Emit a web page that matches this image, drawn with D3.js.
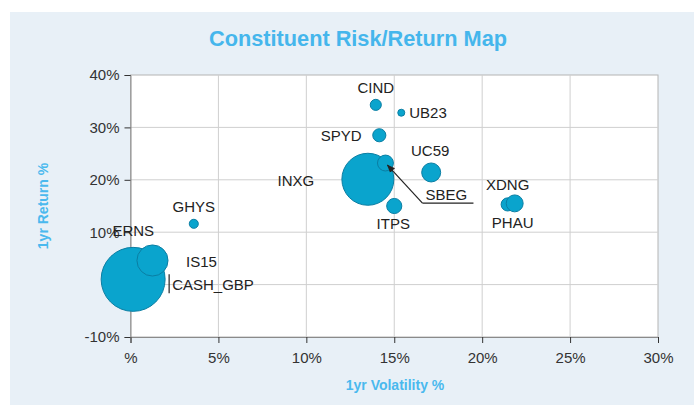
<!DOCTYPE html>
<html>
<head>
<meta charset="utf-8">
<script src="https://cdn.jsdelivr.net/npm/d3@7"></script>
<style>
  body { margin: 0; background: #fff; }
  text { font-family: "Liberation Sans", Arial, sans-serif; }
</style>
</head>
<body>
<div id="chartArea"></div>
<script>
// constituents, drawn in this order
var names = ['ERNS', 'CASH_GBP', 'IS15', 'GHYS', 'INXG', 'CIND', 'SPYD', 'SBEG', 'UB23', 'ITPS', 'UC59', 'XDNG', 'PHAU'];
var volatility = [0.1, 0.15, 1.25, 3.6, 13.5, 13.95, 14.15, 14.5, 15.4, 15.0, 17.1, 21.45, 21.85];
var returns = [1.2, 1.0, 4.6, 11.6, 20.1, 34.3, 28.5, 23.2, 32.8, 15.0, 21.4, 15.3, 15.5];
var weights = [0.2, 25, 5.9, 0.5, 16.5, 0.75, 1.05, 1.55, 0.3, 1.4, 2.2, 1.05, 1.75];

var xTicks = [0, 5, 10, 15, 20, 25, 30];
var yTicks = [-10, 0, 10, 20, 30, 40];

// label placement (pixel offsets from the point)
var labelPos = {
    ERNS: { dx: 1, dy: -48, anchor: 'middle' },
    CASH_GBP: { dx: 39, dy: 5, anchor: 'start' },
    IS15: { dx: 49, dy: 1, anchor: 'middle' },
    GHYS: { dx: 0, dy: -17, anchor: 'middle' },
    INXG: { dx: -72, dy: 1, anchor: 'middle' },
    CIND: { dx: 0, dy: -17, anchor: 'middle' },
    SPYD: { dx: -38, dy: 0, anchor: 'middle' },
    SBEG: { dx: 61, dy: 32, anchor: 'middle' },
    UB23: { dx: 8, dy: 0, anchor: 'start' },
    ITPS: { dx: -1, dy: 18, anchor: 'middle' },
    UC59: { dx: -1, dy: -22, anchor: 'middle' },
    XDNG: { dx: 0, dy: -20, anchor: 'middle' },
    PHAU: { dx: -2, dy: 19, anchor: 'middle' }
};

var data = names.map(function(n, i) {
    return { name: n, x: volatility[i], y: returns[i], w: weights[i] };
});

var W = 694, H = 405;
var plot = { left: 130.5, right: 658, top: 75, bottom: 337 };

var svg = d3.select('#chartArea').append('svg')
    .attr('width', W)
    .attr('height', H);

svg.append('defs').append('marker')
    .attr('id', 'arrow')
    .attr('viewBox', '0 0 10 10')
    .attr('refX', 9).attr('refY', 5)
    .attr('markerWidth', 7).attr('markerHeight', 7)
    .attr('orient', 'auto')
    .append('path')
    .attr('d', 'M0,1 L10,5 L0,9 Z')
    .attr('fill', '#222');

// panel
svg.append('rect')
    .attr('x', 10).attr('y', 12)
    .attr('width', W - 10).attr('height', H - 12)
    .attr('fill', '#e8f0f7');

svg.append('text')
    .attr('x', 358).attr('y', 46)
    .attr('text-anchor', 'middle')
    .attr('font-size', 22)
    .attr('font-weight', 'bold')
    .attr('textLength', 298)
    .attr('lengthAdjust', 'spacingAndGlyphs')
    .attr('fill', '#45b6ec')
    .text('Constituent Risk/Return Map');

var xScale = d3.scaleLinear().domain([0, 30]).range([plot.left, plot.right]);
var yScale = d3.scaleLinear().domain([-10, 40]).range([plot.bottom, plot.top]);
var rScale = d3.scaleSqrt().domain([0, 25]).range([0, 32]);

svg.append('rect')
    .attr('x', plot.left).attr('y', plot.top)
    .attr('width', plot.right - plot.left).attr('height', plot.bottom - plot.top)
    .attr('fill', '#fff')
    .attr('stroke', '#b4b4b4');

// grid
svg.append('g').selectAll('line.v')
    .data(xTicks.slice(1, -1))
    .enter().append('line')
    .attr('x1', function(d) { return xScale(d); })
    .attr('x2', function(d) { return xScale(d); })
    .attr('y1', plot.top).attr('y2', plot.bottom)
    .attr('stroke', '#cfcfcf');

svg.append('g').selectAll('line.h')
    .data(yTicks.slice(1, -1))
    .enter().append('line')
    .attr('y1', function(d) { return yScale(d); })
    .attr('y2', function(d) { return yScale(d); })
    .attr('x1', plot.left).attr('x2', plot.right)
    .attr('stroke', '#cfcfcf');

var fmt = function(d) { return d === 0 ? '%' : d + '%'; };

var xAxis = svg.append('g')
    .attr('transform', 'translate(0,' + plot.bottom + ')')
    .call(d3.axisBottom(xScale).tickValues(xTicks).tickFormat(fmt).tickSize(6).tickPadding(6));
var yAxis = svg.append('g')
    .attr('transform', 'translate(' + plot.left + ',0)')
    .call(d3.axisLeft(yScale).tickValues(yTicks).tickFormat(fmt).tickSize(6).tickPadding(5));

[xAxis, yAxis].forEach(function(a) {
    a.select('.domain').attr('stroke', '#8a8a8a');
    a.selectAll('.tick line').attr('stroke', '#333');
    a.selectAll('.tick text')
        .attr('fill', '#333')
        .attr('font-size', 15)
        .attr('font-family', '"Liberation Sans", Arial, sans-serif');
});
xAxis.selectAll('.tick text').attr('dy', '0.9em');

// axis titles
svg.append('text')
    .attr('x', 395).attr('y', 390)
    .attr('text-anchor', 'middle')
    .attr('font-size', 14)
    .attr('font-weight', 'bold')
    .attr('fill', '#4ab9ee')
    .text('1yr Volatility %');

svg.append('text')
    .attr('transform', 'translate(48,206) rotate(-90)')
    .attr('text-anchor', 'middle')
    .attr('font-size', 14)
    .attr('font-weight', 'bold')
    .attr('fill', '#4ab9ee')
    .text('1yr Return %');

// bubbles
svg.append('g').selectAll('circle')
    .data(data)
    .enter().append('circle')
    .attr('cx', function(d) { return xScale(d.x); })
    .attr('cy', function(d) { return yScale(d.y); })
    .attr('r', function(d) { return rScale(d.w); })
    .attr('fill', '#0aa4cd')
    .attr('stroke', '#0a7ea3')
    .attr('stroke-width', 1);

// callouts
var cash = data[names.indexOf('CASH_GBP')];
svg.append('line')
    .attr('x1', xScale(cash.x) + 36).attr('x2', xScale(cash.x) + 36)
    .attr('y1', yScale(cash.y) - 5).attr('y2', yScale(cash.y) + 14)
    .attr('stroke', '#222').attr('stroke-width', 1.2);

var sbeg = data[names.indexOf('SBEG')];
var sx = xScale(sbeg.x), sy = yScale(sbeg.y);
svg.append('polyline')
    .attr('points', [[sx + 88, sy + 40], [sx + 37, sy + 40]].join(' '))
    .attr('fill', 'none')
    .attr('stroke', '#222').attr('stroke-width', 1.2);
svg.append('line')
    .attr('x1', sx + 37).attr('y1', sy + 40)
    .attr('x2', sx + 2).attr('y2', sy + 2)
    .attr('stroke', '#222').attr('stroke-width', 1.2)
    .attr('marker-end', 'url(#arrow)');

// labels
svg.append('g').selectAll('text')
    .data(data)
    .enter().append('text')
    .attr('x', function(d) { return xScale(d.x) + labelPos[d.name].dx; })
    .attr('y', function(d) { return yScale(d.y) + labelPos[d.name].dy; })
    .attr('dy', '0.35em')
    .attr('text-anchor', function(d) { return labelPos[d.name].anchor; })
    .attr('font-size', 15)
    .attr('fill', '#222')
    .text(function(d) { return d.name; });
</script>
</body>
</html>
